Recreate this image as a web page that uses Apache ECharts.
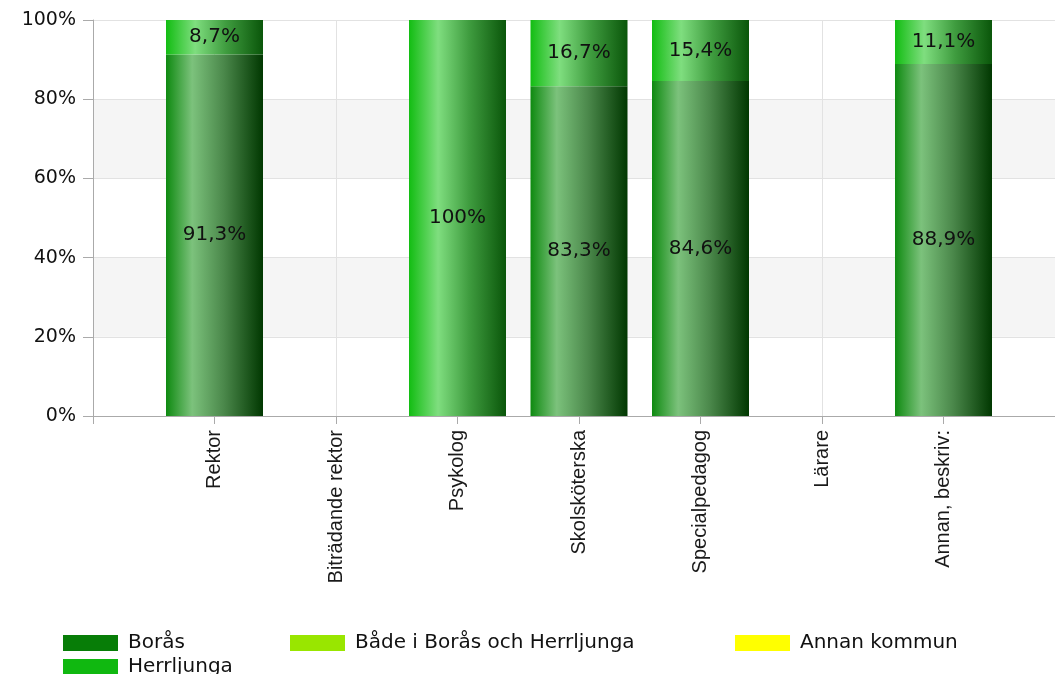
<!DOCTYPE html>
<html>
<head>
<meta charset="utf-8">
<script src="https://cdn.jsdelivr.net/npm/echarts@6/dist/echarts.min.js"></script>
<style>
  html, body { margin: 0; padding: 0; background: #fff; overflow: hidden; }
  /* the plot runs a little past the right edge of the window, as in the original */
  #chart { width: 1065px; height: 674px; }
</style>
</head>
<body>
<div id="chart"></div>
<script>
  const categories = ['Rektor', 'Biträdande rektor', 'Psykolog', 'Skolsköterska', 'Specialpedagog', 'Lärare', 'Annan, beskriv:'];
  const boras = [91.3, null, null, 83.3, 84.6, null, 88.9];
  const herrljunga = [8.7, null, 100, 16.7, 15.4, null, 11.1];
  const bade = [null, null, null, null, null, null, null];
  const annanKommun = [null, null, null, null, null, null, null];
  const yTicks = [0, 20, 40, 60, 80, 100];

  const chart = echarts.init(document.getElementById('chart'));

  // empty slot on both sides so the first bar sits one step right of the y axis
  const pad = arr => [null, ...arr, null];

  const grad = (stops) => ({
    type: 'linear', x: 0, y: 0, x2: 1, y2: 0,
    colorStops: stops.map(s => ({ offset: s[0], color: s[1] }))
  });

  const label = {
    show: true,
    position: 'inside',
    color: '#111',
    fontSize: 20,
    fontFamily: 'DejaVu Sans',
    formatter: p => {
      if (!p.value) return '';
      return (p.value === 100 ? '100' : p.value.toFixed(1).replace('.', ',')) + '%';
    }
  };

  const mkSeries = (name, data, color) => ({
    name: name,
    type: 'bar',
    stack: 'all',
    barWidth: 97,
    data: pad(data),
    itemStyle: { color: color },
    label: label
  });

  const legendText = { fontSize: 20, fontFamily: 'DejaVu Sans', color: '#111', padding: [0, 0, 0, 5] };
  const mkLegend = (name, color, left, top) => ({
    left: left, top: top, padding: 0,
    icon: 'rect', itemWidth: 55, itemHeight: 16,
    selectedMode: false,
    textStyle: legendText,
    data: [{ name: name, itemStyle: { color: color } }]
  });

  chart.setOption({
    animation: false,
    grid: { left: 93, top: 20, height: 396, right: 0 },
    legend: [
      mkLegend('Borås', '#077d07', 63, 633),
      mkLegend('Herrljunga', '#10b810', 63, 657),
      mkLegend('Både i Borås och Herrljunga', '#99e600', 290, 633),
      mkLegend('Annan kommun', '#ffff00', 735, 633)
    ],
    xAxis: {
      type: 'category',
      data: pad(categories).map(c => c || ''),
      boundaryGap: false,
      axisLine: { lineStyle: { color: '#aaa' } },
      axisTick: { length: 8, lineStyle: { color: '#aaa' } },
      splitLine: { show: true, lineStyle: { color: '#e2e2e2' } },
      axisLabel: {
        rotate: 90,
        margin: 14,
        fontSize: 20,
        fontFamily: 'Liberation Sans',
        color: '#1a1a1a',
        interval: 0
      }
    },
    yAxis: {
      type: 'value',
      min: yTicks[0],
      max: yTicks[yTicks.length - 1],
      interval: 20,
      axisLine: { show: true, lineStyle: { color: '#aaa' } },
      axisTick: { show: true, length: 10, lineStyle: { color: '#aaa' } },
      splitLine: { lineStyle: { color: '#e2e2e2' } },
      splitArea: { show: true, areaStyle: { color: ['#ffffff', '#f5f5f5'] } },
      axisLabel: {
        margin: 17,
        fontSize: 19,
        fontFamily: 'DejaVu Sans',
        color: '#111',
        formatter: v => v + '%'
      }
    },
    series: [
      mkSeries('Borås', boras, grad([[0, '#0e8a10'], [0.27, '#7cc27c'], [0.6, '#4a874a'], [1, '#013801']])),
      mkSeries('Herrljunga', herrljunga, grad([[0, '#12bd12'], [0.3, '#7fde7f'], [0.62, '#3f9c3f'], [1, '#0a560a']])),
      mkSeries('Både i Borås och Herrljunga', bade, '#99e600'),
      mkSeries('Annan kommun', annanKommun, '#ffff00')
    ]
  });
</script>
</body>
</html>
